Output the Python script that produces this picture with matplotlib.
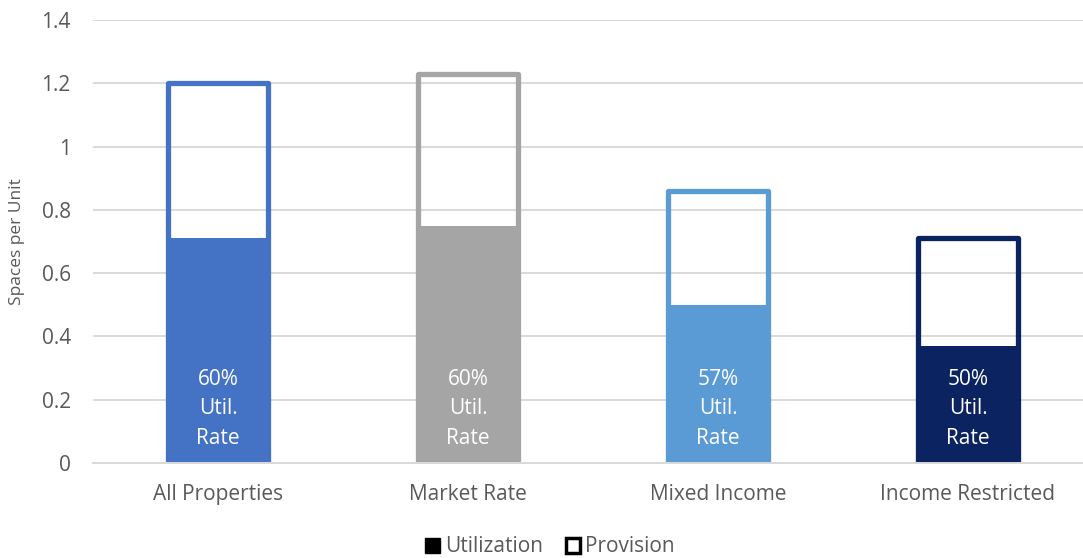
import matplotlib.pyplot as plt
from matplotlib.patches import Patch
import numpy as np

plt.rcParams['font.family'] = ['Open Sans', 'DejaVu Sans']

# Data
categories = ['All Properties', 'Market Rate', 'Mixed Income', 'Income Restricted']
provision = [1.20, 1.23, 0.86, 0.71]
utilization = [0.71, 0.75, 0.50, 0.37]
util_rate = ['60%', '60%', '57%', '50%']
colors = ['#4472C4', '#A5A5A5', '#5B9BD5', '#0B2360']

text_grey = '#595959'
grid_grey = '#D9D9D9'

fig = plt.figure(figsize=(10.83, 5.58), dpi=100)
ax = fig.add_axes([93 / 1083, 95 / 558, 1000 / 1083, 443 / 558])

x = np.arange(len(categories))

# Utilization: solid bars
ax.bar(x, utilization, width=0.42, color=colors, edgecolor='none', zorder=2)

# Provision: outlined bars, no fill
for xi, val, c in zip(x, provision, colors):
    ax.bar(xi, val, width=0.40, facecolor='none', edgecolor=c,
           linewidth=3.8, joinstyle='round', zorder=3)

# Labels inside utilization bars
for xi, r in zip(x, util_rate):
    ax.text(xi, 0.171, f'{r}\nUtil.\nRate', ha='center', va='center',
            color='white', fontsize=15, linespacing=1.52, zorder=4)

ax.set_xlim(-0.5, 3.5)
ax.set_ylim(0, 1.4)
ax.set_yticks(np.arange(0, 1.41, 0.2))
ax.set_yticklabels(['0', '0.2', '0.4', '0.6', '0.8', '1', '1.2', '1.4'])
ax.set_xticks(x)
ax.set_xticklabels(categories)

ax.yaxis.grid(True, color=grid_grey, linewidth=1.4, zorder=1)
ax.set_axisbelow(True)
for s in ['top', 'right', 'left']:
    ax.spines[s].set_visible(False)
ax.spines['bottom'].set_color(grid_grey)
ax.spines['bottom'].set_linewidth(1.4)
ax.spines['bottom'].set_zorder(5)

ax.tick_params(axis='both', length=0, colors=text_grey, labelsize=15)
ax.tick_params(axis='y', pad=16)
ax.tick_params(axis='x', pad=15)
ax.set_ylabel('Spaces per Unit', color=text_grey, fontsize=12.5)
ax.yaxis.set_label_coords(-0.068, 0.5)

handles = [Patch(facecolor='black', edgecolor='black'),
           Patch(facecolor='white', edgecolor='black', linewidth=2.5)]
fig.legend(handles, ['Utilization', 'Provision'], loc='center',
           bbox_to_anchor=(550 / 1083, 1 - 547 / 558), ncol=2, frameon=False,
           handlelength=0.7, handleheight=0.7, handletextpad=0.25,
           columnspacing=1.1, fontsize=15, labelcolor=text_grey)

fig.savefig('out.png', dpi=100)
